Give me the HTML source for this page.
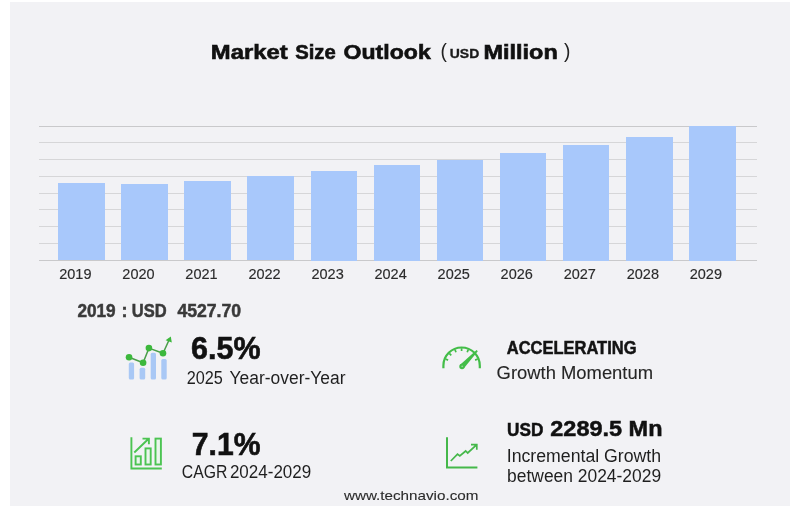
<!DOCTYPE html>
<html lang="en">
<head>
<meta charset="utf-8">
<title>Market Size Outlook (USD Million)</title>
<style>
html,body{margin:0;padding:0;background:#fff;}
body{width:798px;height:513px;overflow:hidden;position:relative;font-family:"Liberation Sans", Arial, sans-serif;}
.card{position:absolute;left:10px;top:2px;width:780px;height:504px;background:#f2f2f5;}
.grid{position:absolute;left:38.5px;width:718px;height:1px;background:#d6d6d8;}
.grid.top,.grid.base{background:#c9c9cb;}
.bar{position:absolute;width:46.5px;background:#a8c8fb;}
svg{position:absolute;left:0;top:0;}
svg text{font-family:"Liberation Sans", Arial, sans-serif;white-space:pre;}
</style>
</head>
<body>
<div class="card"></div>
<div class="grid top" style="top:126.00px"></div>
<div class="grid" style="top:142.00px"></div>
<div class="grid" style="top:159.00px"></div>
<div class="grid" style="top:176.00px"></div>
<div class="grid" style="top:193.00px"></div>
<div class="grid" style="top:209.00px"></div>
<div class="grid" style="top:226.00px"></div>
<div class="grid" style="top:243.00px"></div>
<div class="grid base" style="top:260.00px"></div>
<div class="bar" style="left:58.10px;top:183.30px;height:77.20px"></div>
<div class="bar" style="left:121.21px;top:184.30px;height:76.20px"></div>
<div class="bar" style="left:184.32px;top:180.70px;height:79.80px"></div>
<div class="bar" style="left:247.43px;top:176.10px;height:84.40px"></div>
<div class="bar" style="left:310.54px;top:171.00px;height:89.50px"></div>
<div class="bar" style="left:373.65px;top:165.25px;height:95.25px"></div>
<div class="bar" style="left:436.76px;top:159.75px;height:100.75px"></div>
<div class="bar" style="left:499.87px;top:153.00px;height:107.50px"></div>
<div class="bar" style="left:562.98px;top:145.25px;height:115.25px"></div>
<div class="bar" style="left:626.09px;top:136.75px;height:123.75px"></div>
<div class="bar" style="left:689.20px;top:126.00px;height:134.50px"></div>
<svg width="798" height="513" viewBox="0 0 798 513">
<!-- icon 1: bars + trend line -->
<g id="ic1">
<g fill="#a9c8f5">
<rect x="128.8" y="362.5" width="5.3" height="17" rx="1.5"/>
<rect x="139.6" y="367.8" width="5.6" height="11.7" rx="1.5"/>
<rect x="150.7" y="352.8" width="5.3" height="26.7" rx="1.5"/>
<rect x="161.3" y="359" width="5.4" height="20.5" rx="1.5"/>
</g>
<polyline points="129.05,357.3 143.1,362.8 148.9,348.1 163,353.2 169.5,339" fill="none" stroke="#4a9e4a" stroke-width="1.5"/>
<g fill="#3cb83c">
<circle cx="129.05" cy="357.3" r="3.3"/>
<circle cx="143.1" cy="362.8" r="3.3"/>
<circle cx="148.9" cy="348.1" r="3.3"/>
<circle cx="163" cy="353.2" r="3.3"/>
<polygon points="170.8,336.4 171.8,342.6 165.6,340.3"/>
</g>
</g>
<!-- icon 2: gauge -->
<g id="ic2" fill="none" stroke="#43bd48">
<path d="M443.4,368.2 V365.7 A18.2,18.2 0 0 1 479.8,365.7 V368.2" stroke-width="2.2"/>
<path d="M445.52,359.04 L448.11,360.11 M449.30,353.40 L451.28,355.38 M454.94,349.62 L456.01,352.21 M461.60,348.30 L461.60,351.10 M468.26,349.62 L467.19,352.21 M477.68,359.04 L475.09,360.11" stroke-width="1.7"/>
<polygon points="477.8,351.3 476.6,350.1 460.1,364.7 463.9,368.3" fill="#43bd48" stroke="none"/>
<circle cx="462" cy="366.5" r="2.7" fill="#43bd48" stroke="none"/>
<circle cx="462.2" cy="366.3" r="0.9" fill="#8fd993" stroke="none"/>
</g>
<!-- icon 3 -->
<g id="ic3" fill="none" stroke="#4cc452" stroke-width="1.9">
<path d="M131.4,437.3 V468.5 H161.8"/>
<rect x="135.6" y="456.3" width="5.2" height="8.2" fill="#eaf6ec"/>
<rect x="145.5" y="448.4" width="5.2" height="16.1" fill="#eaf6ec"/>
<rect x="155.5" y="438.6" width="5.4" height="25.9" fill="#eaf6ec"/>
<path d="M134.3,452.5 L148.6,438.8 M142.5,438.6 H148.9 V444.3"/>
</g>
<!-- icon 4 -->
<g id="ic4" fill="none" stroke="#45b84a" stroke-width="2">
<path d="M447,437.3 V467.6 H477.4"/>
<path d="M450.8,461 L457.5,454.2 L459.8,456 L465.7,451 L467.7,453 L476.5,444.9 M471,444.6 H476.8 V449.8" stroke-width="1.7"/>
</g>
<text id="t0" x="210.89" y="58.70" font-size="20.30" font-weight="700" fill="#111" stroke="#111" stroke-width="0.60" textLength="76.83" lengthAdjust="spacingAndGlyphs">Market</text>
<text id="t1" x="295.19" y="58.70" font-size="20.30" font-weight="700" fill="#111" stroke="#111" stroke-width="0.60" textLength="40.53" lengthAdjust="spacingAndGlyphs">Size</text>
<text id="t2" x="343.59" y="58.70" font-size="20.30" font-weight="700" fill="#111" stroke="#111" stroke-width="0.60" textLength="87.13" lengthAdjust="spacingAndGlyphs">Outlook</text>
<text id="t3" x="440.60" y="58.40" font-size="19.50" font-weight="400" fill="#222" textLength="6.40" lengthAdjust="spacingAndGlyphs">(</text>
<text id="t4" x="449.82" y="58.30" font-size="13.60" font-weight="700" fill="#1a1a1a" stroke="#1a1a1a" stroke-width="0.35" textLength="29.41" lengthAdjust="spacingAndGlyphs">USD</text>
<text id="t5" x="483.49" y="58.70" font-size="20.30" font-weight="700" fill="#111" stroke="#111" stroke-width="0.60" textLength="74.23" lengthAdjust="spacingAndGlyphs">Million</text>
<text id="t6" x="564.00" y="58.40" font-size="19.50" font-weight="400" fill="#222" textLength="6.40" lengthAdjust="spacingAndGlyphs">)</text>
<text id="t7" x="59.28" y="279.00" font-size="14.40" font-weight="400" fill="#2b2b2b" stroke="#2b2b2b" stroke-width="0.15" textLength="32.22" lengthAdjust="spacingAndGlyphs">2019</text>
<text id="t8" x="122.33" y="279.00" font-size="14.40" font-weight="400" fill="#2b2b2b" stroke="#2b2b2b" stroke-width="0.15" textLength="32.22" lengthAdjust="spacingAndGlyphs">2020</text>
<text id="t9" x="185.38" y="279.00" font-size="14.40" font-weight="400" fill="#2b2b2b" stroke="#2b2b2b" stroke-width="0.15" textLength="32.22" lengthAdjust="spacingAndGlyphs">2021</text>
<text id="t10" x="248.43" y="279.00" font-size="14.40" font-weight="400" fill="#2b2b2b" stroke="#2b2b2b" stroke-width="0.15" textLength="32.22" lengthAdjust="spacingAndGlyphs">2022</text>
<text id="t11" x="311.48" y="279.00" font-size="14.40" font-weight="400" fill="#2b2b2b" stroke="#2b2b2b" stroke-width="0.15" textLength="32.22" lengthAdjust="spacingAndGlyphs">2023</text>
<text id="t12" x="374.53" y="279.00" font-size="14.40" font-weight="400" fill="#2b2b2b" stroke="#2b2b2b" stroke-width="0.15" textLength="32.22" lengthAdjust="spacingAndGlyphs">2024</text>
<text id="t13" x="437.58" y="279.00" font-size="14.40" font-weight="400" fill="#2b2b2b" stroke="#2b2b2b" stroke-width="0.15" textLength="32.22" lengthAdjust="spacingAndGlyphs">2025</text>
<text id="t14" x="500.63" y="279.00" font-size="14.40" font-weight="400" fill="#2b2b2b" stroke="#2b2b2b" stroke-width="0.15" textLength="32.22" lengthAdjust="spacingAndGlyphs">2026</text>
<text id="t15" x="563.68" y="279.00" font-size="14.40" font-weight="400" fill="#2b2b2b" stroke="#2b2b2b" stroke-width="0.15" textLength="32.22" lengthAdjust="spacingAndGlyphs">2027</text>
<text id="t16" x="626.73" y="279.00" font-size="14.40" font-weight="400" fill="#2b2b2b" stroke="#2b2b2b" stroke-width="0.15" textLength="32.22" lengthAdjust="spacingAndGlyphs">2028</text>
<text id="t17" x="689.78" y="279.00" font-size="14.40" font-weight="400" fill="#2b2b2b" stroke="#2b2b2b" stroke-width="0.15" textLength="32.22" lengthAdjust="spacingAndGlyphs">2029</text>
<text id="t18" x="77.40" y="316.90" font-size="18.00" font-weight="700" fill="#3a3a3a" stroke="#3a3a3a" stroke-width="0.50" textLength="38.23" lengthAdjust="spacingAndGlyphs">2019</text>
<text id="t19" x="121.60" y="316.90" font-size="18.00" font-weight="700" fill="#3a3a3a" stroke="#3a3a3a" stroke-width="0.50" textLength="6.00" lengthAdjust="spacingAndGlyphs">:</text>
<text id="t20" x="131.80" y="316.90" font-size="18.00" font-weight="700" fill="#3a3a3a" stroke="#3a3a3a" stroke-width="0.50" textLength="34.83" lengthAdjust="spacingAndGlyphs">USD</text>
<text id="t21" x="177.40" y="316.90" font-size="18.00" font-weight="700" fill="#3a3a3a" stroke="#3a3a3a" stroke-width="0.50" textLength="63.73" lengthAdjust="spacingAndGlyphs">4527.70</text>
<text id="t22" x="191.06" y="359.20" font-size="30.80" font-weight="700" fill="#111" stroke="#111" stroke-width="0.60" textLength="69.42" lengthAdjust="spacingAndGlyphs">6.5%</text>
<text id="t23" x="186.70" y="383.90" font-size="18.00" font-weight="400" fill="#1f1f1f" textLength="36.13" lengthAdjust="spacingAndGlyphs">2025</text>
<text id="t24" x="229.60" y="383.90" font-size="18.00" font-weight="400" fill="#1f1f1f" textLength="115.93" lengthAdjust="spacingAndGlyphs">Year-over-Year</text>
<text id="t25" x="506.72" y="354.00" font-size="17.60" font-weight="700" fill="#141414" stroke="#141414" stroke-width="0.50" textLength="129.80" lengthAdjust="spacingAndGlyphs">ACCELERATING</text>
<text id="t26" x="496.58" y="378.80" font-size="18.40" font-weight="400" fill="#262626" stroke="#262626" stroke-width="0.10" textLength="156.46" lengthAdjust="spacingAndGlyphs">Growth Momentum</text>
<text id="t27" x="191.76" y="455.00" font-size="30.80" font-weight="700" fill="#111" stroke="#111" stroke-width="0.60" textLength="68.72" lengthAdjust="spacingAndGlyphs">7.1%</text>
<text id="t28" x="181.81" y="478.40" font-size="17.80" font-weight="400" fill="#1f1f1f" textLength="45.61" lengthAdjust="spacingAndGlyphs">CAGR</text>
<text id="t29" x="229.91" y="478.40" font-size="17.80" font-weight="400" fill="#1f1f1f" textLength="81.31" lengthAdjust="spacingAndGlyphs">2024-2029</text>
<text id="t30" x="507.08" y="435.80" font-size="18.30" font-weight="700" fill="#111" stroke="#111" stroke-width="0.50" textLength="36.26" lengthAdjust="spacingAndGlyphs">USD</text>
<text id="t31" x="550.30" y="435.90" font-size="22.00" font-weight="700" fill="#111" stroke="#111" stroke-width="0.50" textLength="112.17" lengthAdjust="spacingAndGlyphs">2289.5 Mn</text>
<text id="t32" x="506.72" y="461.80" font-size="17.60" font-weight="400" fill="#1f1f1f" textLength="154.40" lengthAdjust="spacingAndGlyphs">Incremental Growth</text>
<text id="t33" x="507.12" y="482.20" font-size="17.60" font-weight="400" fill="#1f1f1f" textLength="154.00" lengthAdjust="spacingAndGlyphs">between 2024-2029</text>
<text id="t34" x="343.92" y="499.80" font-size="13.60" font-weight="400" fill="#2b2b2b" stroke="#2b2b2b" stroke-width="0.10" textLength="134.56" lengthAdjust="spacingAndGlyphs">www.technavio.com</text>
</svg>
</body>
</html>
